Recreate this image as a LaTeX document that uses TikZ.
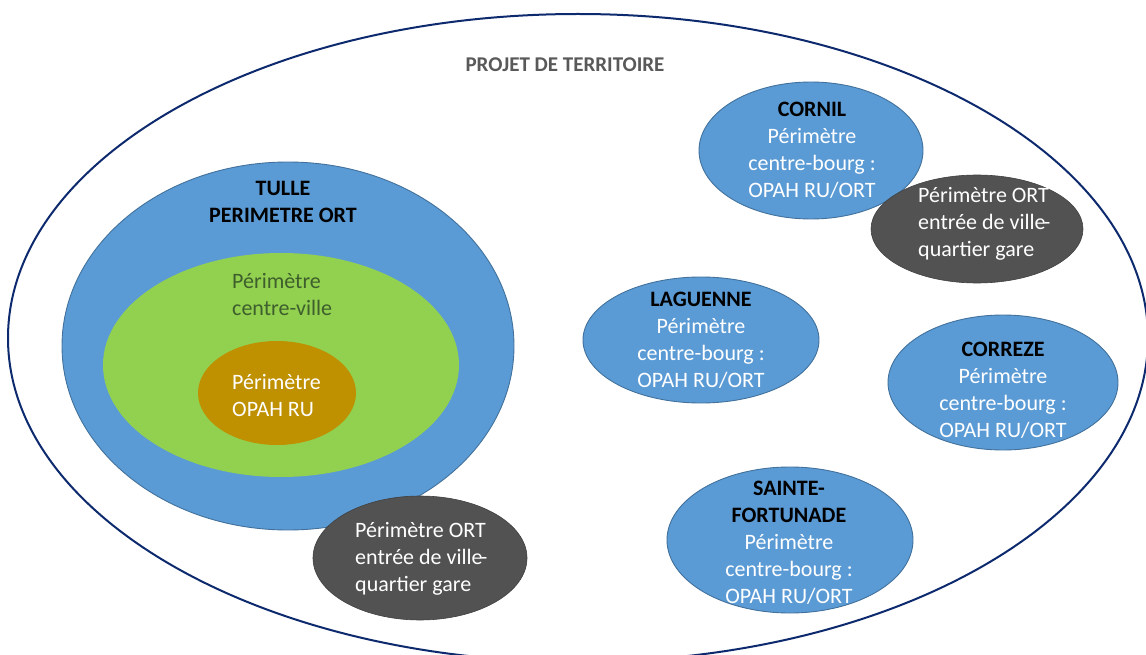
\documentclass[tikz,border=0pt]{standalone}
\usepackage{fontspec}
\setmainfont{Carlito}
\usetikzlibrary{shapes.geometric}
\definecolor{navy}{HTML}{0E2A6E}
\definecolor{blueF}{HTML}{5B9BD5}
\definecolor{blueD}{HTML}{41719C}
\definecolor{greenF}{HTML}{92D050}
\definecolor{orangeF}{HTML}{BF9000}
\definecolor{darkF}{HTML}{525252}
\definecolor{darkD}{HTML}{404040}
\definecolor{titleG}{HTML}{595959}
\definecolor{greenT}{HTML}{3E5F2C}
\begin{document}
\begin{tikzpicture}[x=1pt,y=-1pt,
  zone/.style={ellipse, inner sep=0pt, outer sep=0pt},
  bluezone/.style={zone, fill=blueF, draw=blueD, line width=0.9pt},
  darkzone/.style={zone, fill=darkF, draw=darkD, line width=0.6pt},
  lbl/.style={inner sep=0pt, font=\fontsize{22}{27}\selectfont, text=white},
  townname/.style={font=\fontsize{22}{27}\selectfont\bfseries, text=black}]
\useasboundingbox (0,0) rectangle (1146,655);
\clip (0,0) rectangle (1146,655);
\fill[white] (0,0) rectangle (1146,655);
% outer territory
\node[zone, draw=navy, line width=2pt, minimum width=1140pt, minimum height=648pt] (terr) at (578,338) {};
\node[inner sep=0pt, font=\fontsize{21}{25}\selectfont\bfseries, text=titleG, anchor=base] (terrT) at (565,72) {PROJET DE TERRITOIRE};
% Tulle
\node[bluezone, minimum width=452pt, minimum height=368pt] (tulle) at (288,346) {};
\node[zone, fill=greenF, minimum width=356pt, minimum height=224pt] (cv) at (281,365) {};
\node[zone, fill=orangeF, minimum width=158pt, minimum height=104pt] (opah) at (277,393) {};
\node[lbl, townname, align=center] (tulleT) at (283,201.5) {TULLE\\PERIMETRE ORT};
\node[lbl, text=greenT, align=left, anchor=west] (cvT) at (232,294.5) {Périmètre\\centre-ville};
\node[lbl, align=left, anchor=west] (opahT) at (232,396) {Périmètre\\OPAH RU};
\node[darkzone, minimum width=214pt, minimum height=124pt] (gare1) at (420,558) {};
\node[lbl, align=left, anchor=west] (gare1T) at (355,559) {Périmètre ORT\\entrée de ville\kern-2pt-\\quartier gare};
% Cornil
\node[bluezone, minimum width=224pt, minimum height=137pt] (cornil) at (811,150.5) {};
\node[lbl, align=center] (cornilT) at (812,150) {\textbf{\color{black}CORNIL}\\Périmètre\\centre-bourg :\\OPAH RU/ORT};
\node[darkzone, minimum width=212pt, minimum height=108pt] (gare2) at (977,229) {};
\node[lbl, align=left, anchor=west] (gare2T) at (918,224) {Périmètre ORT\\entrée de ville\kern-2pt-\\quartier gare};
% Laguenne
\node[bluezone, minimum width=236pt, minimum height=126pt] (lag) at (701,340) {};
\node[lbl, align=center] (lagT) at (701,340) {\textbf{\color{black}LAGUENNE}\\Périmètre\\centre-bourg :\\OPAH RU/ORT};
% Correze
\node[bluezone, minimum width=230pt, minimum height=135pt] (corr) at (1003,382.5) {};
\node[lbl, align=center] (corrT) at (1003,390) {\textbf{\color{black}CORREZE}\\Périmètre\\centre-bourg :\\OPAH RU/ORT};
% Sainte-Fortunade
\node[bluezone, minimum width=246pt, minimum height=146pt] (sf) at (790,540) {};
\node[lbl, align=center] (sfT) at (789,543) {\textbf{\color{black}SAINTE-}\\\textbf{\color{black}FORTUNADE}\\Périmètre\\centre-bourg :\\OPAH RU/ORT};
\end{tikzpicture}
\end{document}
